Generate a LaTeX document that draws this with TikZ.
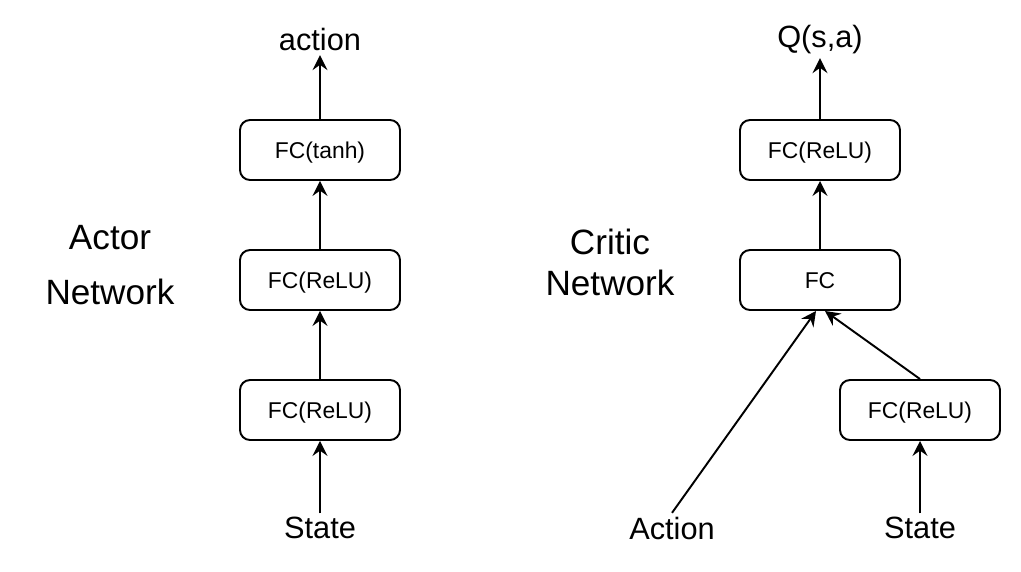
\documentclass[tikz,border=0pt]{standalone}
\usepackage{fontspec}
\setmainfont{Liberation Sans}
\usepackage{tikz}
\usetikzlibrary{arrows.meta,positioning}

\tikzset{
  fcbox/.style={draw, rectangle, rounded corners=0.2cm, line width=1.1pt, minimum height=1.2cm, minimum width=3.2cm, text height=0.94em, text depth=0pt, font=\fontsize{13}{15}\selectfont},
  io/.style={font=\fontsize{17.5}{20}\selectfont, inner sep=2pt},
  netlabel/.style={align=center},
  flow/.style={-{Stealth[length=8.5pt, width=8.5pt, inset=3pt]}, line width=1.1pt},
}

\begin{document}
\begin{tikzpicture}[node distance=2.6cm]
    \useasboundingbox (0,0) rectangle (20.42,-11.42);

    % === Actor Network ===
    \node[fcbox] (A1) at (6.4,-8.2) {FC(ReLU)};
    \node[fcbox, above of=A1] (A2) {FC(ReLU)};
    \node[fcbox, above of=A2] (A3) {FC(tanh)};
    \node[io] (AState) at (6.4,-10.56) {State};
    \node[io] (AOut) at (6.4,-0.8) {action};
    \draw[flow] (AState) -- (A1);
    \draw[flow] (A1) -- (A2);
    \draw[flow] (A2) -- (A3);
    \draw[flow] (A3) -- (AOut);
    \node[netlabel, font=\fontsize{20}{31}\selectfont] (ALabel) at (2.2,-5.3) {Actor\\Network};

    % === Critic Network ===
    \node[fcbox] (C1) at (16.4,-5.6) {FC};
    \node[fcbox, above of=C1] (C2) {FC(ReLU)};
    \node[fcbox] (S1) at (18.4,-8.2) {FC(ReLU)};
    \node[io] (CState) at (18.4,-10.56) {State};
    \node[io] (CAction) at (13.44,-10.56) {Action};
    \node[io] (COut) at (16.4,-0.8) {Q(s,a)};
    \draw[flow] (CState) -- (S1);
    \draw[flow] (CAction.north) -- ([xshift=-0.08cm]C1.south);
    \draw[flow] (S1.north) -- ([xshift=0.1cm]C1.south);
    \draw[flow] (C1) -- (C2);
    \draw[flow] (C2) -- (COut);
    \node[netlabel, font=\fontsize{20}{23}\selectfont] (CLabel) at (12.2,-5.25) {Critic\\Network};

\end{tikzpicture}
\end{document}
